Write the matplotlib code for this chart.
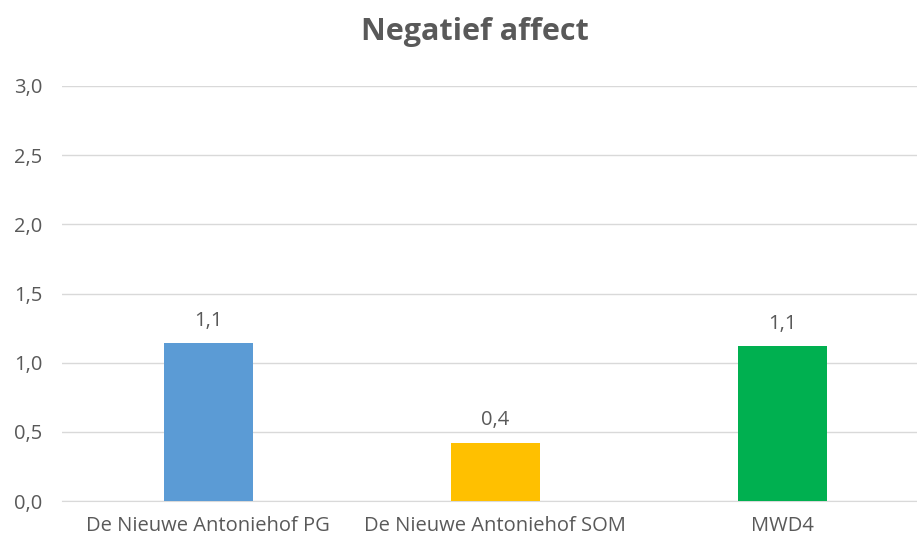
import matplotlib.pyplot as plt
from matplotlib.ticker import FuncFormatter

# data
categories = ['De Nieuwe Antoniehof PG', 'De Nieuwe Antoniehof SOM', 'MWD4']
values = [1.14, 0.42, 1.12]
labels = ['1,1', '0,4', '1,1']
colors = ['#5B9BD5', '#FFC000', '#00B050']

plt.rcParams['font.family'] = ['Open Sans', 'DejaVu Sans']
text_col = '#595959'

fig = plt.figure(figsize=(9.17, 5.43), dpi=100)
ax = fig.add_axes([62 / 917, 1 - 501 / 543, (917 - 62) / 917, (501 - 86) / 543])

x = range(len(categories))
bars = ax.bar(x, values, width=0.31, color=colors, zorder=3)
for b, lab in zip(bars, labels):
    ax.annotate(lab, (b.get_x() + b.get_width() / 2, b.get_height()),
                xytext=(0, 9), textcoords='offset points',
                ha='center', va='bottom', fontsize=14.5, color=text_col)

ax.set_xlim(-0.509, 2.470)
ax.set_ylim(0, 3.0)
ax.set_yticks([0, 0.5, 1.0, 1.5, 2.0, 2.5, 3.0])
ax.yaxis.set_major_formatter(FuncFormatter(lambda v, p: ('%.1f' % v).replace('.', ',')))
ax.set_xticks(list(x))
ax.set_xticklabels(categories)
ax.tick_params(axis='both', length=0, labelsize=14.5, colors=text_col)
ax.tick_params(axis='y', pad=14)
ax.tick_params(axis='x', pad=11)

ax.grid(axis='y', color='#D9D9D9', linewidth=1, zorder=0)
for s in ['top', 'right', 'left']:
    ax.spines[s].set_visible(False)
ax.spines['bottom'].set_color('#D9D9D9')

fig.text(475 / 917, 1 - 32 / 543, 'Negatief affect', ha='center', va='center',
         fontsize=22, fontweight='bold', color=text_col)

fig.savefig('out.png')
